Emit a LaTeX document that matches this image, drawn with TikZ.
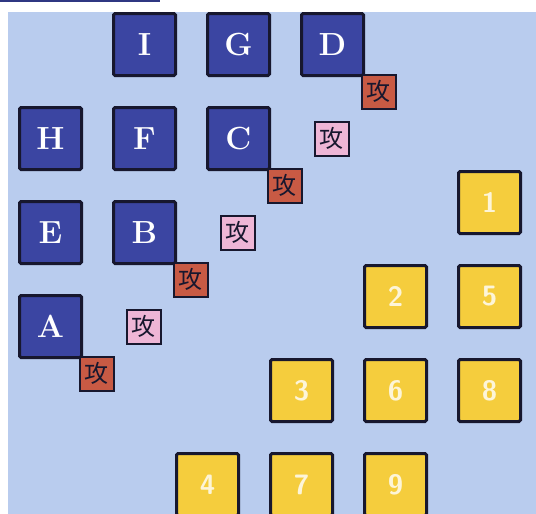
\documentclass[tikz,border=0pt]{standalone}
\usepackage{xcolor}
\usepackage{fontspec}
\newfontfamily\cjk{Noto Sans CJK SC}
\usepackage{tikz}
\usetikzlibrary{positioning, calc}

\definecolor{pagebg}{HTML}{B9CCEE}
\definecolor{teamblue}{HTML}{3B45A2}
\definecolor{teamgold}{HTML}{F5CD3D}
\definecolor{atkred}{HTML}{C85A44}
\definecolor{atkpink}{HTML}{EEB6D6}
\definecolor{inkdark}{HTML}{17172E}

\begin{document}
\begin{tikzpicture}[x=1pt, y=-1pt,
  blk/.style={draw=inkdark, line width=3pt, fill=teamblue, rounded corners=1.5pt,
    minimum size=62pt, inner sep=0pt, text=white,
    font=\fontsize{32}{32}\selectfont\bfseries},
  ylw/.style={draw=inkdark, line width=3pt, fill=teamgold, rounded corners=1.5pt,
    minimum size=62pt, inner sep=0pt, text=white!80!teamgold,
    font=\fontsize{28}{28}\selectfont\sffamily\bfseries},
  atk/.style={draw=inkdark, line width=1.6pt, fill=atkred, minimum size=34pt,
    inner sep=0pt, text=inkdark, font=\fontsize{24}{24}\selectfont\cjk},
  atkl/.style={atk, fill=atkpink}]
  \useasboundingbox (0,0) rectangle (536,514);
  \clip (0,0) rectangle (536,514);
  \fill[white] (0,0) rectangle (536,514);
  \fill[pagebg] (8,12) rectangle (536,514);
  \fill[teamblue!80!black] (0,0) rectangle (160,2);

  \node[blk] (I) at (144.5,44.5) {I};
  \node[blk] (G) at (238.5,44.5) {G};
  \node[blk] (D) at (332.5,44.5) {D};
  \node[blk] (H) at (50.5,138.5) {H};
  \node[blk] (F) at (144.5,138.5) {F};
  \node[blk] (C) at (238.5,138.5) {C};
  \node[blk] (E) at (50.5,232.5) {E};
  \node[blk] (B) at (144.5,232.5) {B};
  \node[blk] (A) at (50.5,326.5) {A};

  \node[ylw] (n1) at (489.5,202.5) {1};
  \node[ylw] (n2) at (395.5,296.5) {2};
  \node[ylw] (n5) at (489.5,296.5) {5};
  \node[ylw] (n3) at (301.5,390.5) {3};
  \node[ylw] (n6) at (395.5,390.5) {6};
  \node[ylw] (n8) at (489.5,390.5) {8};
  \node[ylw] (n4) at (207.5,484.5) {4};
  \node[ylw] (n7) at (301.5,484.5) {7};
  \node[ylw] (n9) at (395.5,484.5) {9};

  \node[atk, below right=-3pt and -4pt of A] (atkA) {攻};
  \node[atk, below right=-3pt and -4pt of B] (atkB) {攻};
  \node[atk, below right=-3pt and -4pt of C] (atkC) {攻};
  \node[atk, below right=-3pt and -4pt of D] (atkD) {攻};
  \node[atkl] (atkAB) at ($(atkA)!0.5!(atkB)$) {攻};
  \node[atkl] (atkBC) at ($(atkB)!0.5!(atkC)$) {攻};
  \node[atkl] (atkCD) at ($(atkC)!0.5!(atkD)$) {攻};
\end{tikzpicture}
\end{document}
